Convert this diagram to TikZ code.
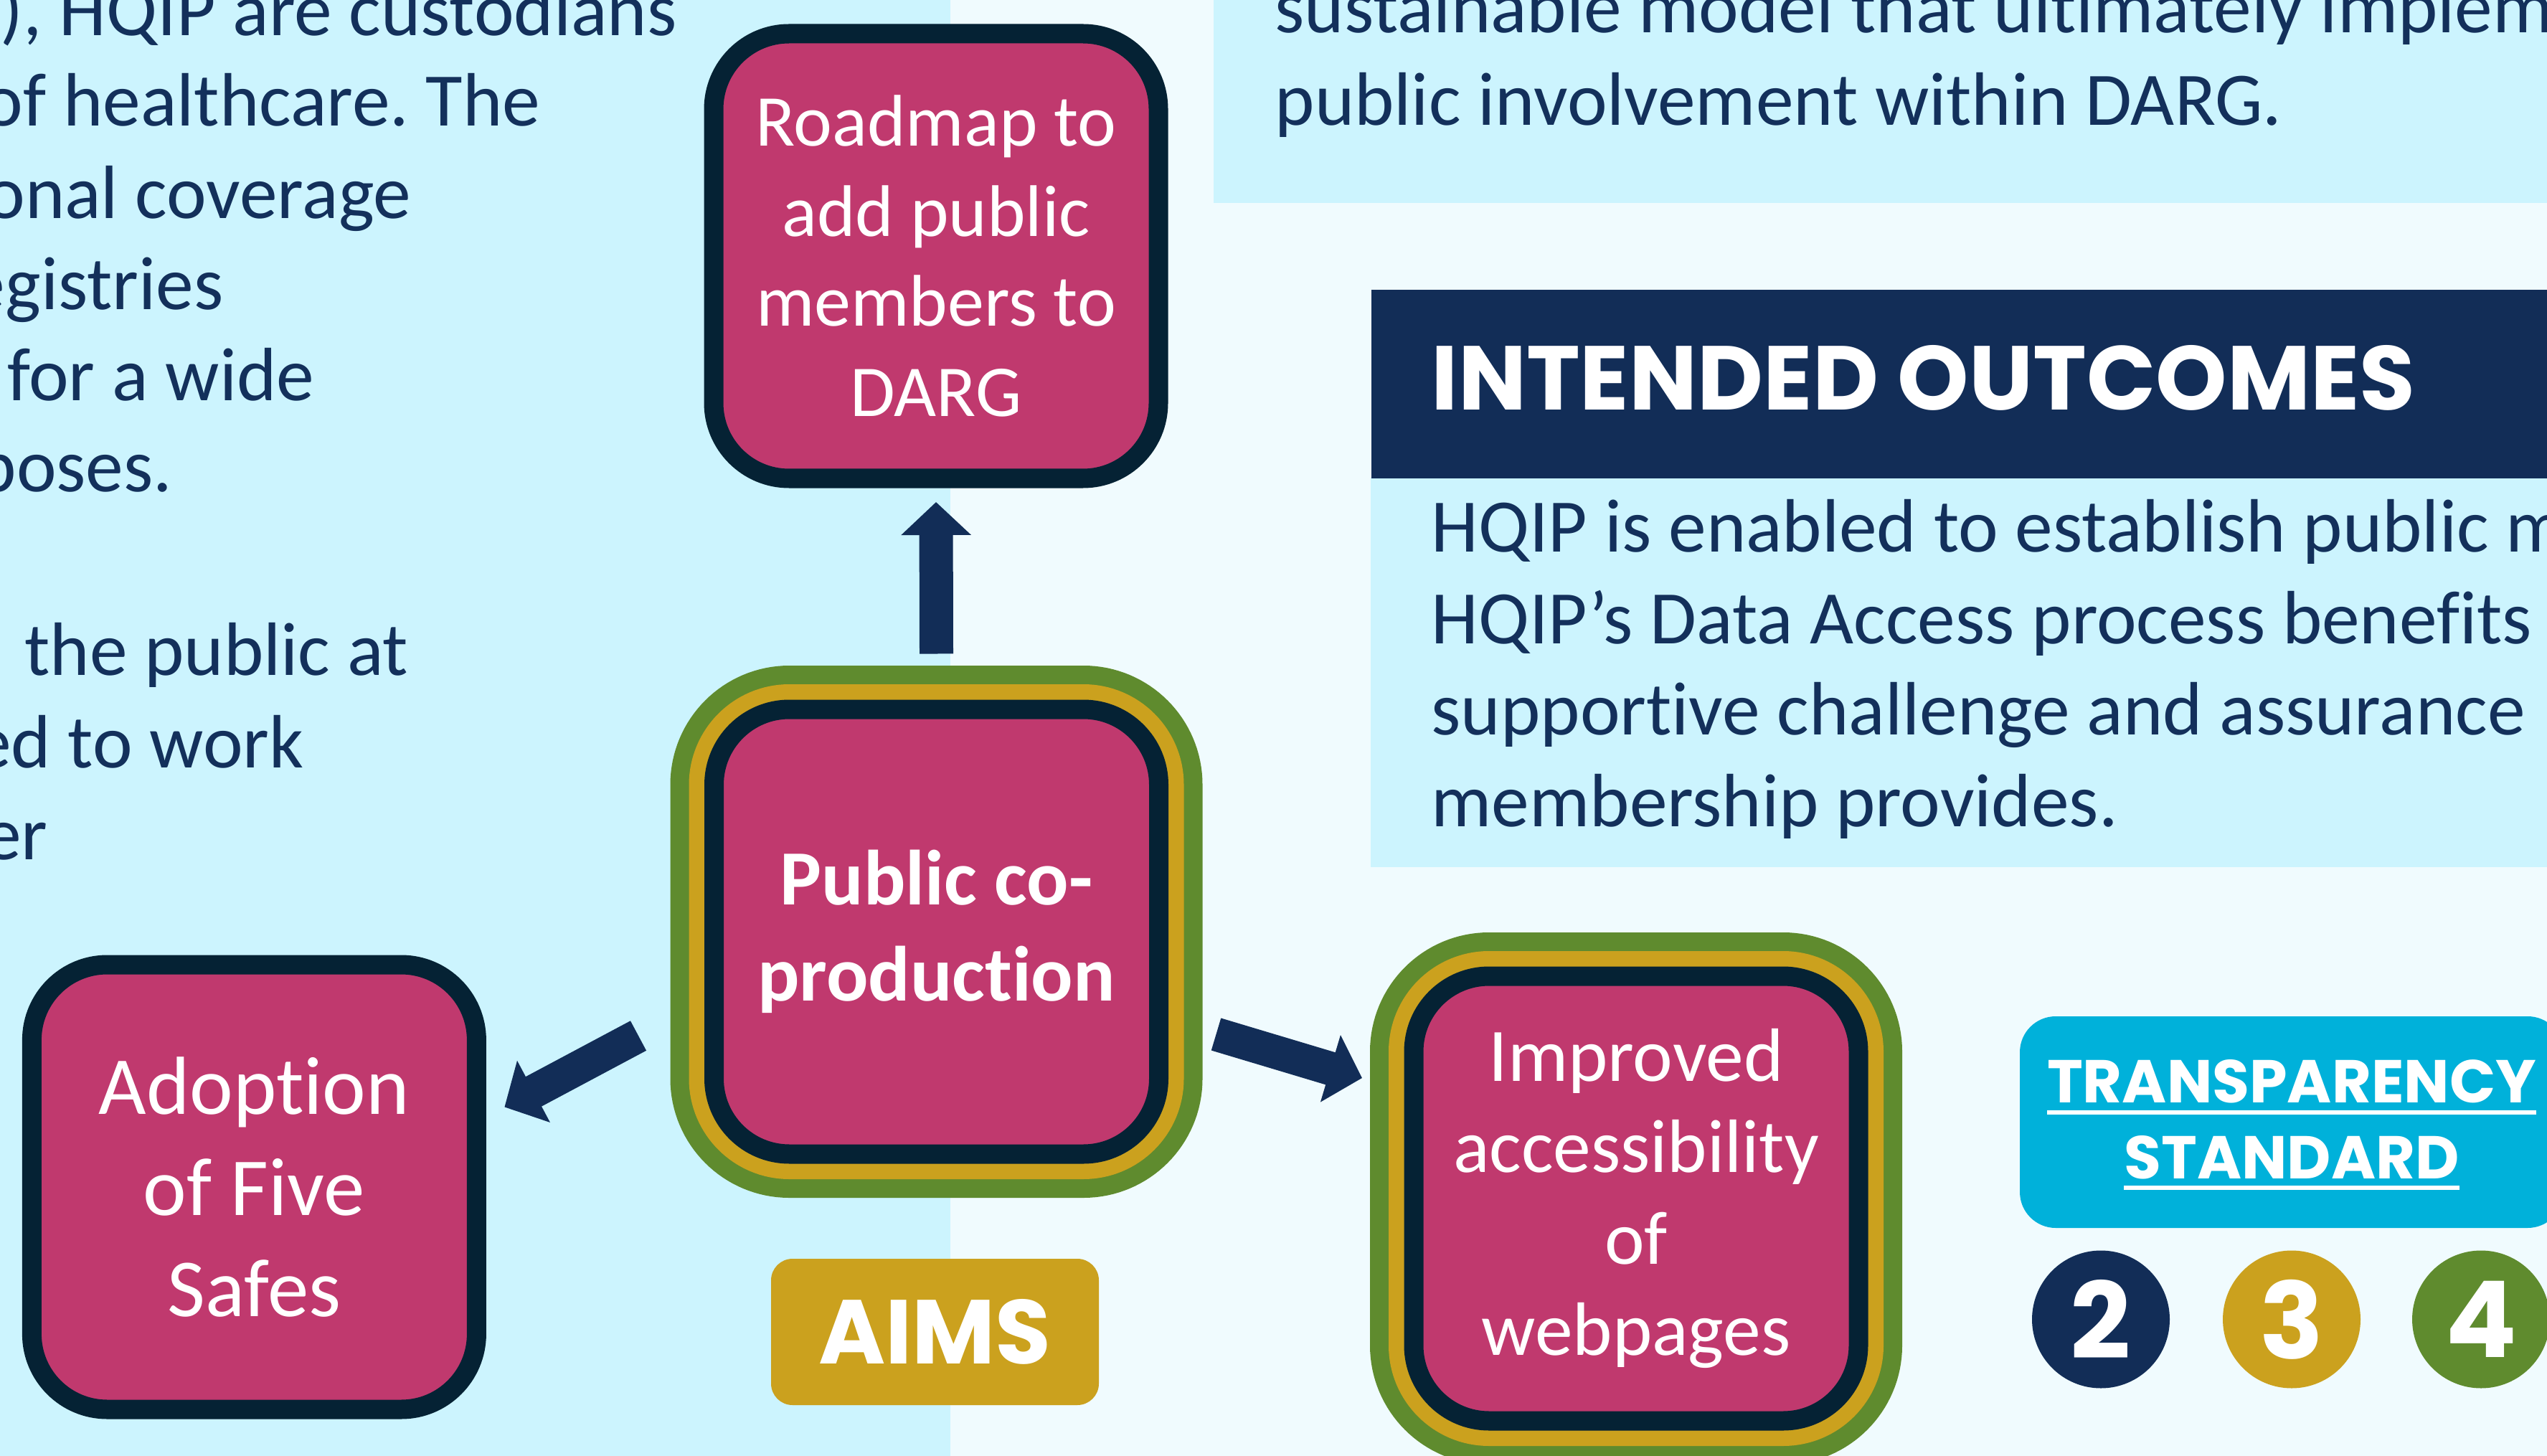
\documentclass[tikz,border=0pt]{standalone}
\usepackage{fontspec}
\setmainfont{Carlito}[Ligatures={NoCommon,NoRequired,NoContextual},Contextuals=NoAlternate]
\newfontfamily\headfont{Poppins}
\usetikzlibrary{arrows.meta}
\definecolor{bgleft}{HTML}{CCF4FE}
\definecolor{bgright}{HTML}{F0FBFE}
\definecolor{inknavy}{HTML}{13305B}
\definecolor{boxpink}{HTML}{C0396E}
\definecolor{boxedge}{HTML}{052234}
\definecolor{ringgold}{HTML}{CBA11E}
\definecolor{ringgreen}{HTML}{5F8B2E}
\definecolor{arrownavy}{HTML}{122D57}
\definecolor{stdcyan}{HTML}{00B1DA}
\newcommand{\thickul}[1]{\setbox0\hbox{#1}\rlap{\rule[-4.55pt]{\wd0}{1.7pt}}\box0}
\frenchspacing

\begin{document}
\begin{tikzpicture}[
  aimbox/.style={draw=boxedge, line width=0.27cm, fill=boxpink, rounded corners=1.05cm,
    minimum width=6.2cm, minimum height=6.2cm, inner sep=0pt, outer sep=0pt,
    text=white, align=center},
  ringed/.style={preaction={draw=ringgreen, line width=1.22cm},
    preaction={draw=ringgold, line width=0.70cm}},
  fatarrow/.style={draw=arrownavy, line width=0.47cm,
    -{Triangle[width=0.95cm,length=0.46cm]}},
  bodytext/.style={text=inknavy, inner sep=0pt, font=\fontsize{30}{36}\selectfont},
  headtext/.style={text=white, inner sep=0pt, font=\headfont\bfseries\fontsize{36}{36}\selectfont},
  stdtext/.style={text=white, inner sep=0pt, font=\headfont\bfseries\fontsize{24}{24}\selectfont},
  numdot/.style={circle, minimum size=1.92cm, inner sep=0pt, text=white,
    font=\headfont\bfseries\fontsize{42}{42}\selectfont}]
  \useasboundingbox (0,0) rectangle (35.51,-20.30);
  \fill[bgleft] (0,0) rectangle (13.25,-20.30);
  \fill[bgright] (13.25,0) rectangle (35.51,-20.30);
  \fill[bgleft] (16.92,0) rectangle (35.51,-2.83);
  \fill[bgleft] (19.11,-6.66) rectangle (35.51,-12.09);

  \node[bodytext, anchor=base east] (L1) at (9.44,-0.50) {), HQIP are custodians};
  \node[bodytext, anchor=base east] (L2) at (7.54,-1.76) {of healthcare. The};
  \node[bodytext, anchor=base east] (L3) at (5.74,-3.05) {onal coverage};
  \node[bodytext, anchor=base east] (L4) at (3.12,-4.32) {egistries};
  \node[bodytext, anchor=base east] (L5) at (4.39,-5.59) {for a wide};
  \node[bodytext, anchor=base east] (L6) at (2.41,-6.86) {poses.};
  \node[bodytext, anchor=base east] (L7) at (5.70,-9.41) {the public at};
  \node[bodytext, anchor=base east] (L8) at (4.24,-10.70) {ed to work};
  \node[bodytext, anchor=base east] (L9) at (0.67,-11.98) {er};

  \node[bodytext, anchor=base west] (R1) at (17.77,-0.46) {sustainable model that ultimately implem};
  \node[bodytext, anchor=base west] (R2) at (17.77,-1.75) {public involvement within DARG.};

  \node[fill=arrownavy, anchor=north west, minimum width=16.4cm, minimum height=2.63cm,
    inner sep=0pt] (IOBar) at (19.11,-4.03) {};
  \node[headtext, anchor=base west] (IOHead) at (19.95,-5.72) {INTENDED OUTCOMES};
  \node[bodytext, anchor=base west] (O1) at (19.95,-7.69) {HQIP is enabled to establish public m};
  \node[bodytext, anchor=base west] (O2) at (19.95,-8.97) {HQIP’s Data Access process benefits};
  \node[bodytext, anchor=base west] (O3) at (19.95,-10.24) {supportive challenge and assurance};
  \node[bodytext, anchor=base west] (O4) at (19.95,-11.52) {membership provides.};

  \node[aimbox, font=\fontsize{29}{35.8}\selectfont] (Road) at (13.05,-3.57)
    {Roadmap to\\add public\\members to\\DARG};
  \node[aimbox, ringed, font=\bfseries\fontsize{31}{38}\selectfont] (Pub) at (13.055,-12.99)
    {Public co-\\produc\kern0pt tion};
  \node[aimbox, font=\fontsize{32.7}{40.1}\selectfont] (Five) at (3.544,-16.55)
    {Adoption\\of Five\\Safes};
  \node[aimbox, ringed, font=\fontsize{30}{36.3}\selectfont] (Web) at (22.81,-16.71)
    {Improved\\accessibility\\of\\webpages};

  \draw[fatarrow] ([yshift=0.775cm]Pub.north) -- ([yshift=-0.33cm]Road.south);
  \draw[fatarrow] ([shift={(-1.055,-1.45)}]Pub.west) -- ([shift={(0.39,1.115)}]Five.east);
  \draw[fatarrow] ([shift={(0.80,-1.43)}]Pub.east) -- ([shift={(-0.72,1.68)}]Web.west);

  \node[headtext, fill=ringgold, rounded corners=0.3cm, minimum width=4.57cm,
    minimum height=2.04cm] (Aims) at (13.035,-18.57) {AIMS};

  \node[fill=stdcyan, rounded corners=0.5cm, minimum width=7.58cm, minimum height=2.95cm]
    (Std) at (31.95,-15.645) {};
  \node[stdtext, anchor=base] (StdA) at (31.95,-15.376) {\thickul{TRANSPARENCY}};
  \node[stdtext, anchor=base] (StdB) at (31.95,-16.43) {\thickul{STANDARD}};

  \node[numdot, fill=arrownavy] (N2) at (29.29,-18.395) {2};
  \node[numdot, fill=ringgold] (N3) at (31.95,-18.395) {3};
  \node[numdot, fill=ringgreen] (N4) at (34.59,-18.395) {4};
\end{tikzpicture}
\end{document}
